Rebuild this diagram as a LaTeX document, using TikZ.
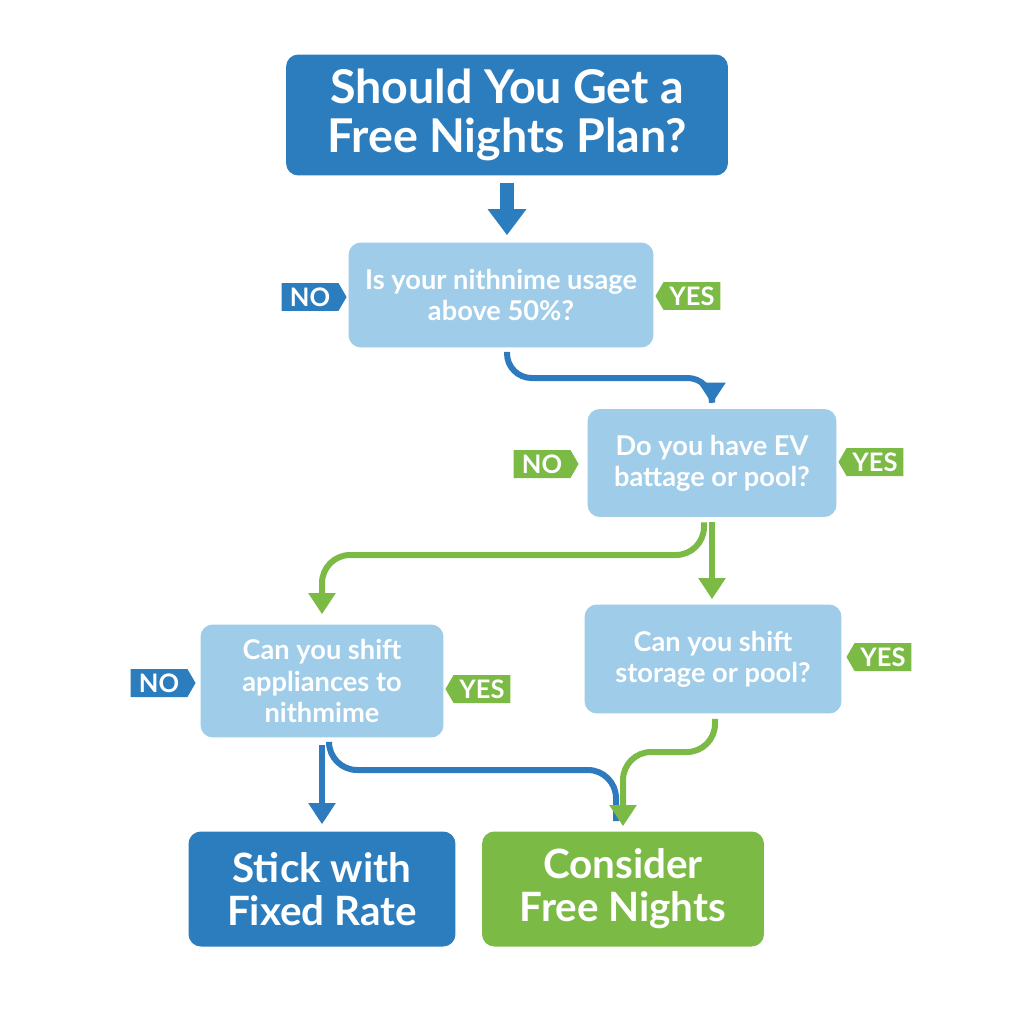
\documentclass[tikz,border=0pt]{standalone}
\usepackage{fontspec}
\setmainfont{Lato}
\usetikzlibrary{arrows.meta, shapes.symbols}

\definecolor{darkblue}{RGB}{44,125,190}
\definecolor{lightblue}{RGB}{158,204,233}
\definecolor{leafgreen}{RGB}{124,186,70}
\definecolor{lineblue}{RGB}{45,122,190}

\begin{document}
\begin{tikzpicture}[
  x=0.02cm, y=-0.02cm,
  every node/.style={text=white, align=center, inner sep=0pt, font=\bfseries},
  title/.style={fill=darkblue, rounded corners=7pt, minimum width=8.84cm, minimum height=2.42cm, font=\bfseries\fontsize{26.5}{27.5}\selectfont},
  question/.style={fill=lightblue, rounded corners=7pt, font=\bfseries\fontsize{15.5}{17.8}\selectfont},
  result/.style={rounded corners=7pt, minimum height=2.3cm, font=\bfseries\fontsize{23}{24.5}\selectfont},
  tag/.style={signal, minimum width=1.3cm, minimum height=0.56cm, signal pointer angle=120, font=\bfseries\fontsize{14.5}{14.5}\selectfont},
  notag/.style={tag, fill=darkblue, signal to=east},
  gnotag/.style={tag, fill=leafgreen, signal to=east},
  yestag/.style={tag, fill=leafgreen, signal to=west},
  bluearrow/.style={draw=lineblue, line width=0.12cm, -{Triangle[width=0.52cm, length=0.42cm]}},
  greenarrow/.style={draw=leafgreen, line width=0.12cm, -{Triangle[width=0.52cm, length=0.42cm]}},
  blueline/.style={draw=lineblue, line width=0.12cm},
  fatarrow/.style={draw=darkblue, line width=0.28cm, -{Triangle[width=0.74cm, length=0.52cm]}}
]
  \fill [white] (0,0) rectangle (1024,1024);

  \node (title) [title] at (507,115) {Should You Get a\\Free Nights Plan?};
  \node (q1) [question, minimum width=6.1cm, minimum height=2.1cm] at (501,295) {Is your nithnime usage\\above 50\%?};
  \node (q2) [question, minimum width=4.98cm, minimum height=2.16cm] at (712,463) {Do you have EV\\battage or pool?};
  \node (q3) [question, minimum width=4.86cm, minimum height=2.26cm] at (322,681) {Can you shift\\appliances to\\nithmime};
  \node (q4) [question, minimum width=5.14cm, minimum height=2.18cm] at (713,659) {Can you shift\\storage or pool?};
  \node (stick) [result, fill=darkblue, minimum width=5.34cm] at (322,889) {Stick with\\Fixed Rate};
  \node (consider) [result, fill=leafgreen, minimum width=5.64cm] at (623,889) {Consider\\Free Nights};

  % answer tags
  \node (no1) [notag] at (310,297) {NO};
  \node (yes1) [yestag] at (692,296) {YES};
  \node (no2) [gnotag] at (542,464) {NO};
  \node (yes2) [yestag] at (875,462) {YES};
  \node (no3) [notag] at (159,683) {NO};
  \node (yes3) [yestag] at (482,689) {YES};
  \node (yes4) [yestag] at (883,657) {YES};

  \draw [fatarrow, shorten <=0.14cm, shorten >=0.14cm] (title.south) -- (title.south |- q1.north);
  \draw [bluearrow, rounded corners=14pt, shorten <=0.08cm, shorten >=0.1cm] ([xshift=0.12cm]q1.south) |- (712,378) -- (q2.north);
  \draw [greenarrow, shorten <=0.1cm, shorten >=0.1cm] (q2.south) -- (q2.south |- q4.north);
  \draw [greenarrow, rounded corners=16pt, shorten <=0.1cm, shorten >=0.2cm] ([xshift=-0.16cm]q2.south) |- (322,555) -- (q3.north);
  \draw [bluearrow, shorten <=0.14cm, shorten >=0.14cm] (q3.south) -- (stick.north);
  \draw [blueline, rounded corners=16pt, shorten <=0.14cm] ([xshift=0.14cm]q3.south) |- (616,770) -- ([xshift=-0.14cm, yshift=0.2cm]consider.north);
  \draw [greenarrow, rounded corners=16pt, shorten <=0.1cm, shorten >=0.1cm] ([xshift=0.04cm]q4.south) |- (623,752) -- (consider.north);
\end{tikzpicture}
\end{document}
